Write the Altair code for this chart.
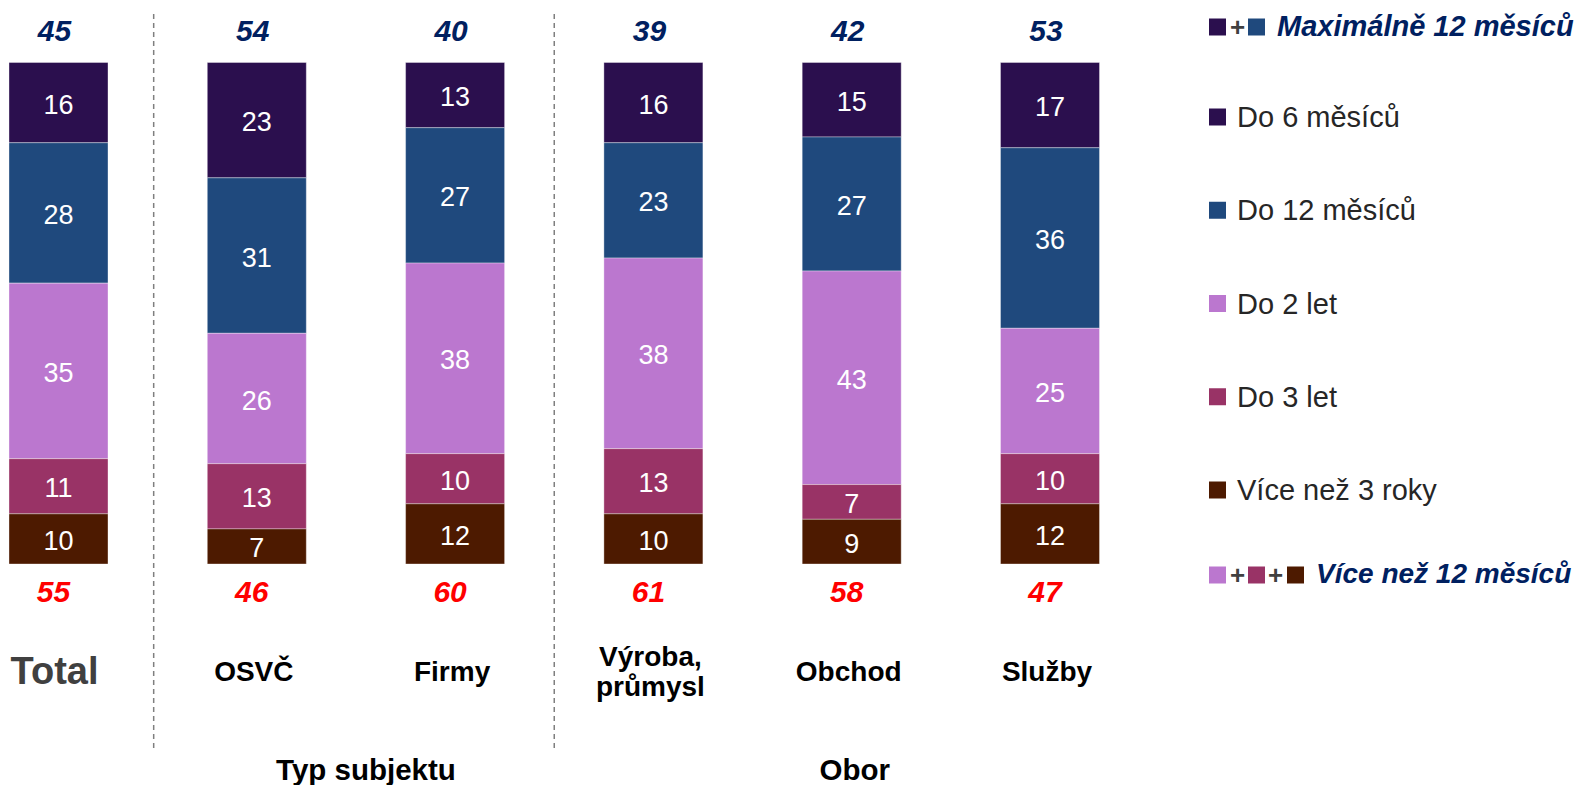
import altair as alt
import pandas as pd

FONT = "Liberation Sans"

categories = ["Total", "OSVČ", "Firmy", "Výroba,\nprůmysl", "Obchod", "Služby"]
series = ["Do 6 měsíců", "Do 12 měsíců", "Do 2 let", "Do 3 let", "Více než 3 roky"]
colors = ["#2b0f4e", "#1f497d", "#bb77cf", "#993366", "#4d1a00"]

do_6m = [16, 23, 13, 16, 15, 17]
do_12m = [28, 31, 27, 23, 27, 36]
do_2y = [35, 26, 38, 38, 43, 25]
do_3y = [11, 13, 10, 13, 7, 10]
over_3y = [10, 7, 12, 10, 9, 12]
series_values = [do_6m, do_12m, do_2y, do_3y, over_3y]

top_totals = [45, 54, 40, 39, 42, 53]        # Maximálně 12 měsíců
bottom_totals = [55, 46, 60, 61, 58, 47]     # Více než 12 měsíců

groups = ["Typ subjektu", "Obor"]
group_members = [[1, 2], [3, 4, 5]]
separators = [0.48, 2.5]

legend_top = "Maximálně 12 měsíců"
legend_bottom = "Více než 12 měsíců"

W, H = 1570, 777
xscale = alt.Scale(domain=[-0.25466, 7.66263], nice=False, zero=False, padding=0)
yscale = alt.Scale(domain=[(556 - H) / 501.5, 556 / 501.5], nice=False, zero=False, padding=0)

rows = []
for j, s in enumerate(series):
    for i, c in enumerate(categories):
        rows.append({"cat": c, "idx": i, "series": s, "sidx": j, "value": series_values[j][i]})
df = pd.DataFrame(rows)

cats = pd.DataFrame({"cat": categories, "idx": list(range(len(categories))),
                     "top": top_totals, "bottom": bottom_totals})

color = alt.Color("series:N", scale=alt.Scale(domain=series, range=colors), legend=None)
X = alt.X("idx:Q", scale=xscale, axis=None)

bars = alt.Chart(df).mark_bar(size=99, stroke="white", strokeWidth=0.6, strokeOpacity=0.6).encode(
    x=X,
    y=alt.Y("value:Q", stack="normalize", scale=yscale, axis=None),
    color=color,
    order=alt.Order("sidx:Q", sort="descending"),
)

labels = alt.Chart(df).transform_stack(
    stack="value", as_=["v0", "v1"], groupby=["cat"],
    sort=[alt.SortField("sidx", order="descending")], offset="normalize",
).transform_calculate(mid="(datum.v0 + datum.v1) / 2").mark_text(
    color="white", fontSize=27, font=FONT, baseline="middle", align="center", dy=3
).encode(x=X, y=alt.Y("mid:Q", scale=yscale, axis=None), text="value:Q")

top_txt = alt.Chart(cats).mark_text(
    color="#002060", fontSize=30, font=FONT, fontWeight="bold", fontStyle="italic",
    baseline="middle", dx=-4, dy=1
).encode(x=X, y=alt.value(23), text="top:Q")

bot_txt = alt.Chart(cats).mark_text(
    color="#ff0000", fontSize=30, font=FONT, fontWeight="bold", fontStyle="italic",
    baseline="middle", dx=-5
).encode(x=X, y=alt.value(584.5), text="bottom:Q")

total_lbl = alt.Chart(cats).transform_filter("datum.idx == 0").mark_text(
    color="#404040", fontSize=38, font=FONT, fontWeight="bold", baseline="middle", dx=-4, dy=2
).encode(x=X, y=alt.value(663), text="cat:N")

cat_lbl = alt.Chart(cats).transform_filter(
    "datum.idx > 0 && indexof(datum.cat, '\\n') < 0"
).mark_text(
    color="black", fontSize=28, font=FONT, fontWeight="bold", baseline="middle", dx=-3, dy=2
).encode(x=X, y=alt.value(663), text="cat:N")

cat_lbl_ml = alt.Chart(cats).transform_filter(
    "indexof(datum.cat, '\\n') >= 0"
).mark_text(
    color="black", fontSize=28, font=FONT, fontWeight="bold", baseline="middle",
    lineBreak="\n", lineHeight=30, dx=-3, dy=-13
).encode(x=X, y=alt.value(663), text="cat:N")

gdf = pd.DataFrame({"group": groups, "center": [sum(m) / len(m) for m in group_members]})
grp_lbl1 = alt.Chart(gdf).transform_filter(alt.datum.group == groups[0]).mark_text(
    color="black", fontSize=29.5, font=FONT, fontWeight="bold", baseline="alphabetic", dx=10
).encode(x=alt.X("center:Q", scale=xscale, axis=None), y=alt.value(772), text="group:N")
grp_lbl2 = alt.Chart(gdf).transform_filter(alt.datum.group == groups[1]).mark_text(
    color="black", fontSize=29.5, font=FONT, fontWeight="bold", baseline="alphabetic", dx=3
).encode(x=alt.X("center:Q", scale=xscale, axis=None), y=alt.value(772), text="group:N")

sdf = pd.DataFrame({"x": separators})
seps = alt.Chart(sdf).mark_rule(color="#7f7f7f", strokeWidth=1.5, strokeDash=[5, 4]).encode(
    x=alt.X("x:Q", scale=xscale, axis=None), y=alt.value(6), y2=alt.value(740)
)

# Legend (drawn manually)
ldf = pd.DataFrame({"series": series, "row": list(range(1, 6))})
leg_sq = alt.Chart(ldf).transform_calculate(py="109 + 93.25 * (datum.row - 1)").mark_square(
    size=289, opacity=1
).encode(x=alt.value(1209.5), y=alt.Y("py:Q", scale=None), color=color)
leg_txt = alt.Chart(ldf).transform_calculate(py="109 + 93.25 * (datum.row - 1)").mark_text(
    align="left", baseline="middle", fontSize=29, font=FONT, color="#262626", dy=1
).encode(x=alt.value(1229), y=alt.Y("py:Q", scale=None), text="series:N")

top_combo = pd.DataFrame({"series": series[:2], "px": [1209.5, 1248.5]})
bot_combo = pd.DataFrame({"series": series[2:], "px": [1209.5, 1248.5, 1287.5]})
leg_top_sq = alt.Chart(top_combo).mark_square(size=289, opacity=1).encode(
    x=alt.X("px:Q", scale=None), y=alt.value(19), color=color)
leg_bot_sq = alt.Chart(bot_combo).mark_square(size=289, opacity=1).encode(
    x=alt.X("px:Q", scale=None), y=alt.value(567), color=color)
plus_df = pd.DataFrame({"px": [1229.5, 1229.5, 1267.5], "py": [20, 568, 568], "t": ["+", "+", "+"]})
leg_plus = alt.Chart(plus_df).mark_text(
    fontSize=26, font=FONT, fontWeight="bold", color="#404040", baseline="middle"
).encode(x=alt.X("px:Q", scale=None), y=alt.Y("py:Q", scale=None), text="t:N")
ttl_df = pd.DataFrame({"t": [legend_top, legend_bottom], "px": [1269, 1308],
                       "py": [19, 567], "fs": [29, 28]})
leg_ttl = alt.Chart(ttl_df).mark_text(
    align="left", baseline="middle", font=FONT, fontWeight="bold",
    fontStyle="italic", color="#002060"
).encode(x=alt.X("px:Q", scale=None), y=alt.Y("py:Q", scale=None), text="t:N",
         size=alt.Size("fs:Q", scale=None, legend=None))

chart = alt.layer(
    seps, bars, labels, top_txt, bot_txt, total_lbl, cat_lbl, cat_lbl_ml, grp_lbl1, grp_lbl2,
    leg_sq, leg_txt, leg_top_sq, leg_bot_sq, leg_plus, leg_ttl
).resolve_scale(x="shared", y="shared").properties(
    width=W, height=H, autosize=alt.AutoSizeParams(type="none"), padding=0
).configure_view(stroke=None)

chart.save("out.html", embed_options={"renderer": "svg", "actions": False})
